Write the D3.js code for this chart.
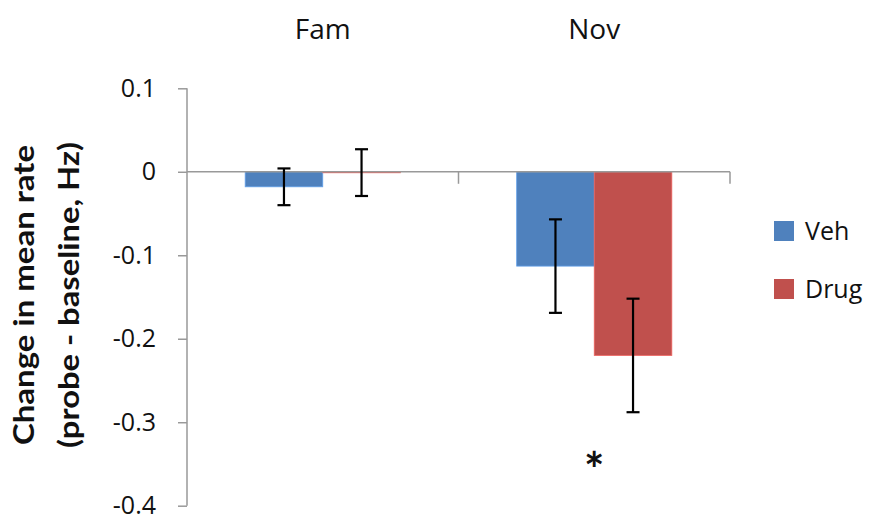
<!DOCTYPE html>
<html>
<head>
    <title>Change in mean rate</title>
    <script src="https://d3js.org/d3.v7.min.js"></script>
    <style type="text/css">
    body {
        margin: 0;
        background-color: white;
    }
    text {
        font-family: "Open Sans", Lato, sans-serif;
        fill: #111;
    }
    </style>
</head>
<body>
    <script type="text/javascript">
    // chart data
    var categories = ['Fam', 'Nov'];
    var seriesNames = ['Veh', 'Drug'];
    var seriesColors = ['#4f81bd', '#c0504d'];
    var vehValues = [-0.018, -0.113];
    var vehErrors = [0.022, 0.056];
    var drugValues = [-0.001, -0.220];
    var drugErrors = [0.028, 0.068];
    var yTicks = [0.1, 0, -0.1, -0.2, -0.3, -0.4];
    var yTickLabels = ['0.1', '0', '-0.1', '-0.2', '-0.3', '-0.4'];
    var starMarks = [{ category: 'Nov', value: -0.345 }];

    var width = 876, height = 515;

    var svg = d3.select('body').append('svg')
        .attr('width', width)
        .attr('height', height);

    var x = d3.scaleBand().domain(categories).range([187, 730]).padding(0);
    var y = d3.scaleLinear().domain([-0.4, 0.1]).range([505.7, 88.3]);

    // bars sit in the middle of each band, gap width 150%
    var barW = x.bandwidth() / 3.5;
    var xs = d3.scaleBand().domain(seriesNames)
        .range([x.bandwidth() / 2 - barW, x.bandwidth() / 2 + barW]).padding(0);

    var rows = [];
    categories.forEach(function(c, i) {
        rows.push({ cat: c, s: 'Veh', v: vehValues[i], e: vehErrors[i], col: seriesColors[0] });
        rows.push({ cat: c, s: 'Drug', v: drugValues[i], e: drugErrors[i], col: seriesColors[1] });
    });

    // y axis
    var yAxis = d3.axisLeft(y)
        .tickValues(yTicks)
        .tickSize(9)
        .tickPadding(22)
        .tickFormat(function(d, i) { return yTickLabels[i]; });
    var gy = svg.append('g').attr('transform', 'translate(' + x.range()[0] + ',0)').call(yAxis);
    gy.select('.domain').attr('stroke', '#999').attr('stroke-width', 1.5).attr('d', 'M0,' + y(0.1) + 'V' + y(-0.4));
    gy.selectAll('.tick line').attr('stroke', '#999').attr('stroke-width', 1.5);
    gy.selectAll('.tick text').style('font-size', '25px').attr('fill', '#111')
        .style('font-family', '"Open Sans", Lato, sans-serif');

    // bars
    svg.selectAll('rect.bar').data(rows).enter().append('rect')
        .attr('class', 'bar')
        .attr('x', function(d) { return x(d.cat) + xs(d.s); })
        .attr('width', xs.bandwidth())
        .attr('y', function(d) { return y(Math.max(0, d.v)); })
        .attr('height', function(d) { return Math.max(1, Math.abs(y(d.v) - y(0))); })
        .attr('fill', function(d) { return d.col; })
        .attr('stroke', function(d) { return d3.color(d.col).brighter(0.6); })
        .attr('stroke-width', 0.8);

    // category axis at zero
    var gx = svg.append('g');
    gx.append('line')
        .attr('x1', x.range()[0]).attr('x2', x.range()[1])
        .attr('y1', y(0)).attr('y2', y(0))
        .attr('stroke', '#999').attr('stroke-width', 1.5);
    var edges = categories.map(function(c) { return x(c); }).concat([x.range()[1]]);
    gx.selectAll('line.tk').data(edges.slice(1)).enter().append('line')
        .attr('class', 'tk')
        .attr('x1', function(d) { return d; }).attr('x2', function(d) { return d; })
        .attr('y1', y(0)).attr('y2', y(0) + 12)
        .attr('stroke', '#999').attr('stroke-width', 1.5);

    // error bars
    var capW = 6.5;
    var eb = svg.selectAll('g.err').data(rows).enter().append('g').attr('class', 'err')
        .attr('transform', function(d) { return 'translate(' + (x(d.cat) + xs(d.s) + xs.bandwidth() / 2) + ',0)'; });
    eb.append('line')
        .attr('y1', function(d) { return y(d.v + d.e); })
        .attr('y2', function(d) { return y(d.v - d.e); })
        .attr('stroke', '#000').attr('stroke-width', 2.2);
    eb.append('line')
        .attr('x1', -capW).attr('x2', capW)
        .attr('y1', function(d) { return y(d.v + d.e); })
        .attr('y2', function(d) { return y(d.v + d.e); })
        .attr('stroke', '#000').attr('stroke-width', 2.2);
    eb.append('line')
        .attr('x1', -capW).attr('x2', capW)
        .attr('y1', function(d) { return y(d.v - d.e); })
        .attr('y2', function(d) { return y(d.v - d.e); })
        .attr('stroke', '#000').attr('stroke-width', 2.2);

    // category names on top
    svg.selectAll('text.cat').data(categories).enter().append('text')
        .attr('class', 'cat')
        .attr('x', function(d) { return x(d) + x.bandwidth() / 2; })
        .attr('y', 38.5)
        .attr('text-anchor', 'middle')
        .style('font-size', '28px')
        .text(function(d) { return d; });

    // significance star
    svg.selectAll('text.star').data(starMarks).enter().append('text')
        .attr('class', 'star')
        .attr('x', function(d) { return x(d.category) + x.bandwidth() / 2; })
        .attr('y', function(d) { return y(d.value) + 27; })
        .attr('text-anchor', 'middle')
        .style('font-family', 'Lato, sans-serif')
        .style('font-weight', 'bold')
        .style('font-size', '48px')
        .text('*');

    // y title
    var title = svg.append('g').attr('transform', 'translate(0,295) rotate(-90)');
    title.append('text')
        .attr('x', 0).attr('y', 34)
        .attr('text-anchor', 'middle')
        .attr('textLength', 300).attr('lengthAdjust', 'spacingAndGlyphs')
        .style('font-family', 'Lato, sans-serif')
        .style('font-size', '28px').style('font-weight', 'bold')
        .text('Change in mean rate');
    title.append('text')
        .attr('x', 0).attr('y', 79)
        .attr('text-anchor', 'middle')
        .attr('textLength', 306).attr('lengthAdjust', 'spacingAndGlyphs')
        .style('font-family', 'Lato, sans-serif')
        .style('font-size', '28px').style('font-weight', 'bold')
        .text('(probe - baseline, Hz)');

    // legend
    var lg = svg.selectAll('g.leg').data(seriesNames).enter().append('g').attr('class', 'leg')
        .attr('transform', function(d, i) { return 'translate(774,' + (221 + i * 58) + ')'; });
    lg.append('rect').attr('width', 20).attr('height', 20)
        .attr('fill', function(d, i) { return seriesColors[i]; });
    lg.append('text').attr('x', 31).attr('y', 18.5)
        .style('font-size', '25px')
        .text(function(d) { return d; });
    </script>
</body>
</html>
